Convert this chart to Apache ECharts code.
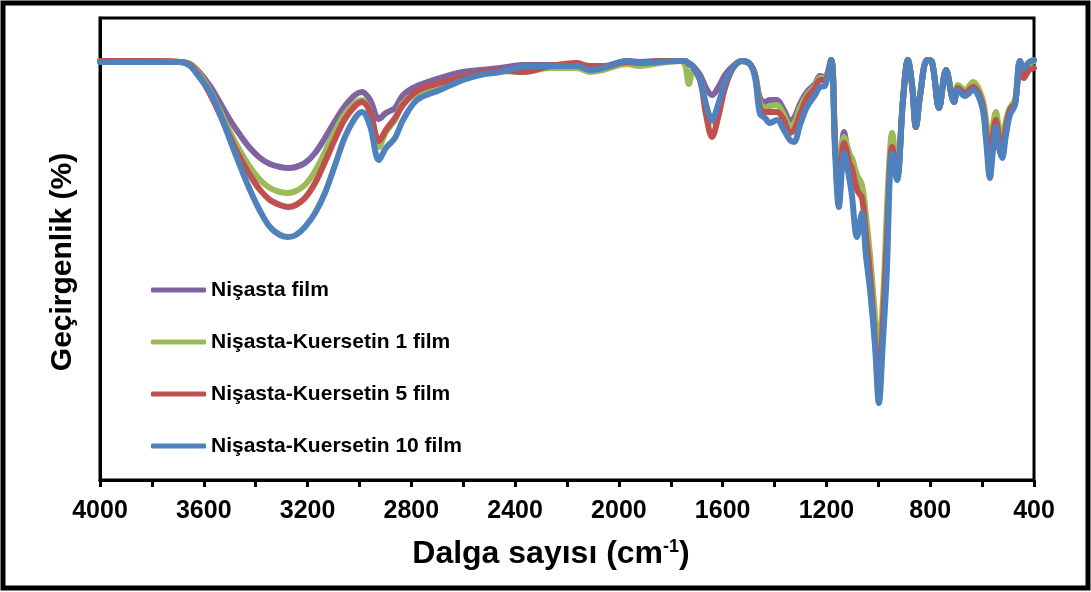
<!DOCTYPE html>
<html>
<head>
<meta charset="utf-8">
<script src="https://cdn.jsdelivr.net/npm/echarts@6/dist/echarts.min.js"></script>
<style>
  html, body { margin: 0; padding: 0; background: #fff; }
  #chart { width: 1091px; height: 592px; }
</style>
</head>
<body>
<div id="chart"></div>
<script>
// wavenumber (cm-1)
var wavenumbers = [
  4000, 3846, 3692, 3653, 3615, 3576, 3537, 3499, 3460, 3422,
  3383, 3345, 3306, 3275, 3245, 3210, 3171, 3133, 3094, 3056,
  3017, 2990, 2959, 2925, 2898, 2863, 2832, 2778, 2690, 2601,
  2535, 2458, 2370, 2266, 2161, 2111, 2061, 1969, 1919, 1842,
  1764, 1745, 1730, 1714, 1687, 1664, 1641, 1618, 1591, 1560,
  1525, 1495, 1475, 1456, 1437, 1418, 1391, 1364, 1341, 1325,
  1302, 1275, 1244, 1225, 1206, 1182, 1167, 1152, 1132, 1109,
  1102, 1082, 1063, 1048, 1032, 1013, 998, 982, 967, 955,
  947, 928, 905, 886, 870, 855, 839, 812, 793, 766,
  739, 708, 693, 666, 635, 600, 585, 570, 558, 547,
  535, 523, 508, 493, 473, 454, 439, 419, 400
];

// transmittance (%), estimated
var nisasta = [
  83.8, 83.8, 83.6, 83.2, 81.4, 78.8, 75.4, 72, 69, 66.4,
  64.4, 63.2, 62.6, 62.4, 62.6, 63.4, 65.4, 68.4, 71.8, 74.8,
  77, 77.6, 76, 72.2, 73.4, 74.4, 77, 78.8, 80.4, 81.6,
  82, 82.4, 83, 83, 83, 82.8, 82.8, 83.8, 83.6, 83.8,
  83.8, 83.8, 83.4, 82.8, 81, 78.4, 77, 78.4, 81, 82.8,
  83.8, 83.2, 81, 76.4, 75.6, 76, 76, 74, 72, 72.4,
  75.2, 77.6, 79.2, 80.8, 80.6, 84, 68, 57, 69.6, 64,
  64, 59, 58, 50, 42, 30, 23, 32, 50, 64,
  68, 61, 76, 84, 79, 70.6, 77, 84, 83.6, 74.4,
  82, 75.6, 78.4, 77.4, 78.4, 75.2, 70, 63, 68, 71.6,
  68, 66, 70, 73.6, 75.4, 83.8, 82, 83.4, 84
];

var kuersetin1 = [
  83.8, 83.8, 83.6, 83.2, 81, 77.8, 73.8, 69.6, 65.8, 62.6,
  60, 58.4, 57.6, 57.4, 57.8, 59, 61.8, 65.6, 69.8, 73.2,
  75.4, 76, 73.6, 66.6, 69.6, 72, 75.4, 77.2, 79.2, 80.6,
  81.2, 81.8, 81.6, 82.4, 82.4, 81.6, 82, 83.2, 82.8, 83.4,
  83.8, 83, 79.2, 82, 80, 75, 71.6, 74.4, 79, 82.4,
  83.8, 83.2, 81, 75.4, 74.4, 74.8, 75, 73, 70.8, 71.2,
  74.4, 77, 78.8, 80.4, 80.4, 84, 68, 57, 68.6, 65,
  64.4, 61, 59, 53, 45, 33, 25.6, 36, 54, 66,
  69.4, 61, 76, 84, 79, 70.6, 77, 84, 83.6, 74.4,
  82, 75.6, 79, 78, 79.6, 76.4, 72, 66, 71, 73.6,
  70.4, 68, 72, 74.4, 76, 83.8, 81.6, 83.2, 83.8
];

var kuersetin5 = [
  83.8, 83.8, 83.6, 83, 80.6, 77.2, 73, 68.6, 64.4, 61,
  58, 56, 55, 54.6, 55, 56.4, 59.4, 63.6, 68.2, 72.2,
  74.8, 75.6, 73.6, 67.8, 70, 72.4, 75, 77.8, 79.4, 80.6,
  81.4, 82, 81.6, 82.8, 83.4, 82.6, 82.6, 83.6, 83.4, 83.8,
  83.8, 83.8, 83.2, 82.6, 80, 73, 68.6, 72.4, 78.4, 82.4,
  83.8, 83.2, 81, 74.4, 73.6, 73.6, 73.6, 72, 69.4, 70,
  73, 76.4, 78.4, 80, 80, 84, 67.4, 56, 67.4, 63,
  62.4, 58, 56.4, 49, 41, 28, 19.4, 32, 48, 63,
  66.6, 60.4, 76, 84, 79, 70.6, 77, 84, 83.6, 74.4,
  82, 75.6, 78.4, 77.4, 78.6, 75.4, 70, 63.4, 69, 72,
  68.4, 66, 70.4, 74, 75.4, 83.2, 80.4, 82, 82.4
];

var kuersetin10 = [
  83.6, 83.6, 83.6, 82.8, 80.4, 77.6, 73.2, 68, 62.8, 58,
  53.8, 50.6, 49, 48.6, 49, 50.6, 53.4, 57.4, 63, 68.6,
  72.4, 73.6, 70.8, 64, 66.4, 68.4, 72, 76, 78, 80,
  81, 81.6, 82.6, 82.8, 82.8, 82, 82.4, 83.8, 83.4, 83.6,
  83.8, 83.8, 83.2, 82.6, 80, 75, 72, 75, 79.4, 82.6,
  83.8, 83.2, 80.4, 73.2, 72.4, 71.4, 72, 70, 68, 67.6,
  71, 74.6, 77, 78.6, 78.8, 84, 66, 54.6, 65.4, 59.4,
  57, 48.6, 53.4, 45, 38, 27, 15.4, 28, 42, 62,
  65.4, 60, 76, 84, 79, 70.6, 77, 84, 83.6, 74.4,
  82, 75.6, 78, 76.8, 78, 74.6, 68, 60.4, 66, 70.6,
  66.4, 64.4, 69, 73, 75, 83.8, 82.4, 83.6, 84
];

var seriesNames = ['Nişasta film', 'Nişasta-Kuersetin 1 film', 'Nişasta-Kuersetin 5 film', 'Nişasta-Kuersetin 10 film'];
var seriesData = [nisasta, kuersetin1, kuersetin5, kuersetin10];
var colors = ['#8064A2', '#9BBB59', '#C0504D', '#4F81BD'];

function pairs(values) {
  return wavenumbers.map(function (w, i) { return [w, values[i]]; });
}

var chart = echarts.init(document.getElementById('chart'), null, { renderer: 'canvas' });

var series = seriesData.map(function (vals, i) {
  return {
    name: seriesNames[i],
    type: 'line',
    data: pairs(vals),
    symbol: 'none',
    smooth: 0.35,
    color: colors[i],
    lineStyle: { width: 6, color: colors[i], cap: 'round', join: 'round' },
    z: 2 + i
  };
});

chart.setOption({
  animation: false,
  backgroundColor: '#fff',
  textStyle: { fontFamily: 'Liberation Sans, Arial, sans-serif' },
  grid: {
    left: 100, right: 57, top: 18, bottom: 112,
    show: true, borderColor: '#000', borderWidth: 3, backgroundColor: 'transparent'
  },
  legend: {
    orient: 'vertical',
    left: 151,
    top: 279,
    padding: 0,
    icon: 'roundRect',
    itemWidth: 55,
    itemHeight: 5,
    itemGap: 30,
    data: seriesNames,
    textStyle: { fontSize: 21, fontWeight: 'bold', color: '#000', lineHeight: 22 }
  },
  xAxis: {
    type: 'value',
    inverse: true,
    min: 400,
    max: 4000,
    interval: 400,
    axisLine: { show: true, onZero: false, lineStyle: { color: '#000', width: 3 } },
    axisTick: { show: true, inside: false, length: 7, lineStyle: { color: '#000', width: 3 } },
    minorTick: { show: true, splitNumber: 2, length: 7, lineStyle: { color: '#000', width: 3 } },
    splitLine: { show: false },
    axisLabel: {
      color: '#000', fontSize: 25, fontWeight: 'bold', margin: 19,
      formatter: function (v) { return String(v); }
    },
    name: 'Dalga sayısı (cm{sup|-1})',
    nameLocation: 'middle',
    nameGap: 58,
    nameTextStyle: {
      color: '#000', fontSize: 32, fontWeight: 'bold', padding: [0, 32, 0, 0],
      rich: { sup: { fontSize: 18, fontWeight: 'bold', color: '#000', verticalAlign: 'top', padding: [0, 0, 14, 0] } }
    }
  },
  yAxis: {
    type: 'value',
    min: 0,
    max: 92.4,
    axisLine: { show: true, lineStyle: { color: '#000', width: 3 } },
    axisTick: { show: false },
    axisLabel: { show: false },
    splitLine: { show: false },
    name: 'Geçirgenlik (%)',
    nameLocation: 'middle',
    nameGap: 22,
    nameRotate: 90,
    nameTextStyle: { color: '#000', fontSize: 30, fontWeight: 'bold', padding: [0, 26, 0, 0] }
  },
  graphic: [{
    type: 'rect',
    shape: { x: 3, y: 3, width: 1085, height: 585 },
    style: { fill: 'none', stroke: '#000', lineWidth: 5 },
    silent: true
  }],
  series: series
});
</script>
</body>
</html>
